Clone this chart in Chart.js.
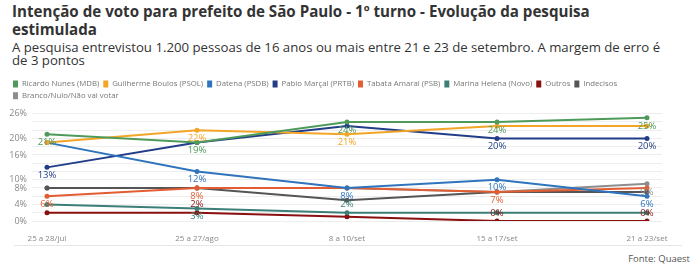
<!DOCTYPE html>
<html>
<head>
<meta charset="utf-8">
<script src="https://cdn.jsdelivr.net/npm/chart.js@4.4.0/dist/chart.umd.min.js"></script>
<style>
    body { margin: 0; width: 696px; height: 273px; position: relative; background: #fff; font-family: 'Open Sans', sans-serif; overflow: hidden; }
    #titulo { position: absolute; left: 12px; top: 2px; width: 628px; font-size: 15.15px; font-weight: 700; line-height: 18px; color: #333; }
    #sub { position: absolute; left: 12px; top: 41px; width: 655px; font-size: 13.2px; line-height: 13px; color: #333; }
    #box { position: absolute; left: 0; top: 76px; width: 696px; height: 170px; }
    #linha { position: absolute; left: 14px; right: 14px; top: 245px; border-top: 1px solid #e6e6e6; }
    #fonte { position: absolute; right: 6px; top: 252px; font-size: 9.5px; color: #555; }
</style>
</head>
<body>
<div id="titulo">Intenção de voto para prefeito de São Paulo - 1º turno - Evolução da pesquisa estimulada</div>
<div id="sub">A pesquisa entrevistou 1.200 pessoas de 16 anos ou mais entre 21 e 23 de setembro. A margem de erro é de 3 pontos</div>
<div id="box"><canvas id="grafico"></canvas></div>
<div id="linha"></div>
<div id="fonte">Fonte: Quaest</div>
<script>
// pesquisas (eixo x)
var pesquisas = ['25 a 28/jul', '25 a 27/ago', '8 a 10/set', '15 a 17/set', '21 a 23/set'];

// intenção de voto (%) por candidato
var nunes     = [21, 19, 24, 24, 25];
var boulos    = [19, 22, 21, 23, 23];
var datena    = [19, 12, 8, 10, 6];
var marcal    = [13, 19, 23, 20, 20];
var tabata    = [6, 8, 8, 7, 8];
var marina    = [4, 3, 2, 2, 2];
var outros    = [2, 2, 1, 0, 0];
var indecisos = [8, 8, 5, 7, 7];
var branco    = [8, 8, 8, 7, 9];

// rótulos do eixo y
var ticksY = [0, 4, 8, 10, 16, 20, 26];

// pontos que recebem rótulo (índices)
var rotNunes = [0, 1, 2, 3, 4];
var rotBoulos = [1, 2];
var rotDatena = [1, 2, 3, 4];
var rotMarcal = [0, 3, 4];
var rotTabata = [0, 1, 3];
var rotMarina = [1, 2];
var rotOutros = [1, 3, 4];
var rotBranco = [4];

function serie(nome, valores, cor, rot, acima) {
    return {
        label: nome,
        data: valores.map(function (v, i) { return { x: i, y: v }; }),
        borderColor: cor,
        backgroundColor: cor,
        pointBackgroundColor: cor,
        pointBorderWidth: 0,
        borderWidth: 2,
        pointRadius: 2.5,
        pointHoverRadius: 2.5,
        tension: 0,
        rotulos: rot || [],
        rotuloAcima: acima || []
    };
}

var rotulosPlugin = {
    id: 'rotulos',
    afterDatasetsDraw: function (chart) {
        var ctx = chart.ctx;
        ctx.save();
        ctx.font = '9.5px "Open Sans"';
        ctx.textAlign = 'center';
        ctx.textBaseline = 'middle';
        chart.data.datasets.forEach(function (ds, i) {
            var meta = chart.getDatasetMeta(i);
            ds.rotulos.forEach(function (j) {
                var p = meta.data[j];
                var acima = ds.rotuloAcima.indexOf(j) >= 0;
                ctx.fillStyle = ds.borderColor;
                ctx.fillText(ds.data[j].y + '%', p.x, p.y + (acima ? -8 : 8));
            });
        });
        ctx.restore();
    }
};

var ctx = document.getElementById('grafico').getContext('2d');
var grafico = new Chart(ctx, {
    type: 'line',
    data: {
        datasets: [
            serie('Ricardo Nunes (MDB)', nunes, '#4e9a5a', rotNunes),
            serie('Guilherme Boulos (PSOL)', boulos, '#f2a526', rotBoulos),
            serie('Datena (PSDB)', datena, '#2f74bd', rotDatena),
            serie('Pablo Marçal (PRTB)', marcal, '#223d88', rotMarcal),
            serie('Tabata Amaral (PSB)', tabata, '#e35d33', rotTabata),
            serie('Marina Helena (Novo)', marina, '#3c7f77', rotMarina, [2]),
            serie('Outros', outros, '#8a1010', rotOutros, [1, 3, 4]),
            serie('Indecisos', indecisos, '#555555'),
            serie('Branco/Nulo/Não vai votar', branco, '#8d8d8d', rotBranco)
        ]
    },
    options: {
        responsive: true,
        maintainAspectRatio: false,
        animation: false,
        layout: { padding: { left: 9, right: 34, top: 0, bottom: 0 } },
        plugins: {
            tooltip: { enabled: false },
            legend: {
                align: 'start',
                labels: {
                    boxWidth: 5,
                    boxHeight: 7,
                    padding: 4,
                    color: '#777',
                    font: { family: 'Open Sans', size: 7.8 },
                    generateLabels: function (chart) {
                        var itens = Chart.defaults.plugins.legend.labels.generateLabels(chart);
                        itens.forEach(function (it) { it.lineWidth = 0; });
                        return itens;
                    }
                }
            }
        },
        scales: {
            x: {
                type: 'linear',
                min: -0.1,
                max: 4.1,
                afterBuildTicks: function (axis) {
                    axis.ticks = pesquisas.map(function (p, i) { return { value: i }; });
                },
                afterFit: function (axis) { axis.height = 25; },
                grid: { display: false },
                border: { display: false },
                ticks: {
                    padding: 5,
                    color: '#888',
                    font: { family: 'Open Sans', size: 8 },
                    maxRotation: 0,
                    autoSkip: false,
                    callback: function (v) { return pesquisas[v]; }
                }
            },
            y: {
                min: 0,
                max: 27,
                afterBuildTicks: function (axis) {
                    var t = [];
                    for (var v = 0; v <= 26; v += 2) t.push({ value: v });
                    axis.ticks = t;
                },
                afterFit: function (axis) { axis.width = 23; },
                grid: { color: '#eeeeee', drawTicks: false },
                border: { display: false },
                ticks: {
                    padding: 5,
                    color: '#888',
                    font: { family: 'Open Sans', size: 9 },
                    autoSkip: false,
                    callback: function (v) { return ticksY.indexOf(v) >= 0 ? v + '%' : ''; }
                }
            }
        }
    },
    plugins: [rotulosPlugin]
});
</script>
</body>
</html>
